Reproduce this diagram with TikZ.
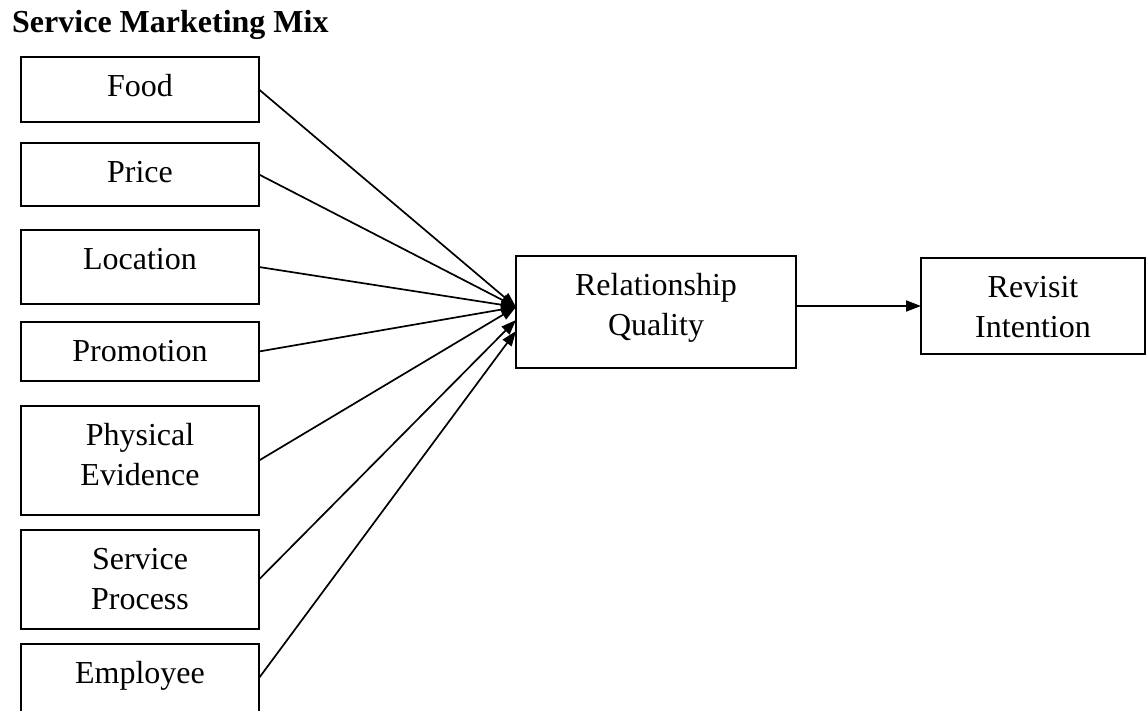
\documentclass[tikz,border=0pt]{standalone}
\usepackage{fontspec}
\setmainfont{Liberation Serif}
\usetikzlibrary{arrows.meta}

% fixed-size box text: lines hang from the top edge
\newcommand\bx[3]{\parbox[c][#2][t]{#1}{\centering\rule{0pt}{39pt}#3}}

\tikzset{
  every node/.style={font=\fontsize{32}{40}\selectfont},
  factor/.style={draw, line width=1.8pt, inner sep=0pt, outer sep=0pt},
  conn/.style={line width=1.7pt, -{Triangle[length=15pt,width=11pt]}}
}

\begin{document}
\begin{tikzpicture}[x=1pt,y=-1pt]
\useasboundingbox (0,0) rectangle (1146,710);
\clip (0,0) rectangle (1146,710);

\node[anchor=base west, inner sep=0pt, font=\fontsize{32}{40}\selectfont\bfseries] (title) at (12,32) {Service Marketing Mix};

% marketing-mix factors
\node[factor] (food)  at (140,89.5)  {\bx{238pt}{65pt}{Food}};
\node[factor] (price) at (140,174.5) {\bx{238pt}{63pt}{Price}};
\node[factor] (loc)   at (140,267)   {\bx{238pt}{74pt}{Location}};
\node[factor] (promo) at (140,351.5) {\bx{238pt}{59pt}{Promotion}};
\node[factor] (phys)  at (140,460.5) {\bx{238pt}{109pt}{Physical\\Evidence}};
\node[factor] (proc)  at (140,579.5) {\bx{238pt}{99pt}{Service\\Process}};
\node[factor] (emp)   at (140,678)   {\bx{238pt}{68pt}{Employee}};

% mediator and outcome
\node[factor] (rq) at (656,312)  {\bx{280pt}{112pt}{Relationship\\Quality}};
\node[factor] (ri) at (1033,306) {\bx{224pt}{96pt}{Revisit\\Intention}};

% arrival points on the mediator
\coordinate (inA) at (516,307);
\coordinate (inB) at (516,320);
\coordinate (inC) at (516,331);

\draw[conn] (food.east)  -- (inA);
\draw[conn] (price.east) -- (inA);
\draw[conn] (loc.east)   -- (inA);
\draw[conn] (promo.east) -- (inA);
\draw[conn] (phys.east)  -- (inA);
\draw[conn] (proc.east)  -- (inB);
\draw[conn] (emp.east)   -- (inC);

\draw[conn] (rq.east |- ri.west) -- (ri.west);
\end{tikzpicture}
\end{document}
